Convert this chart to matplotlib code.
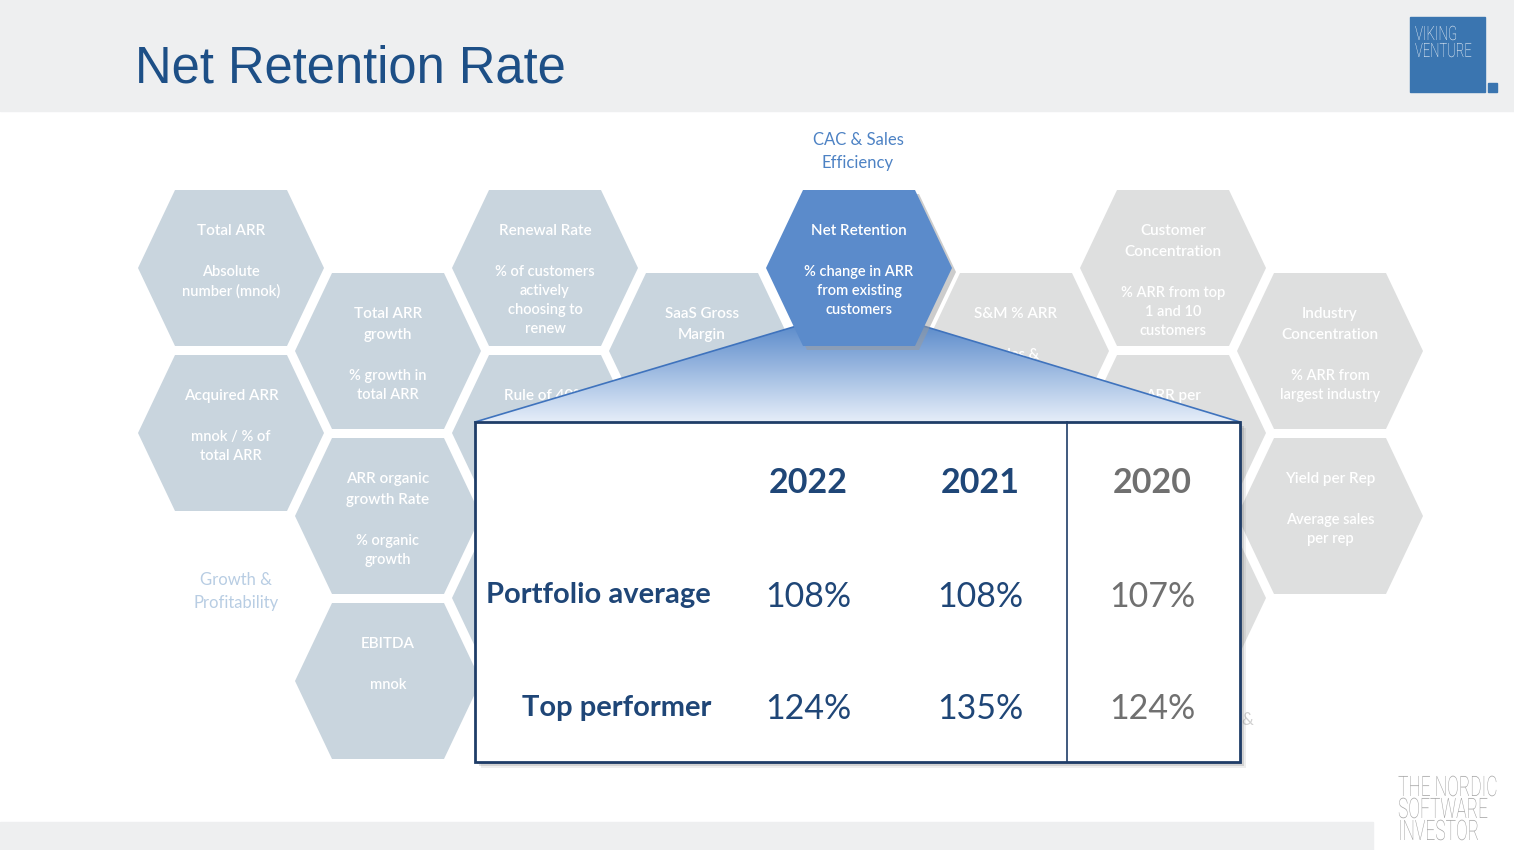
import numpy as np
import matplotlib
matplotlib.use("Agg")
import matplotlib.pyplot as plt
from matplotlib.patches import Polygon, Rectangle, PathPatch
from matplotlib.textpath import TextPath
from matplotlib.font_manager import FontProperties
from matplotlib.transforms import Affine2D
from matplotlib.colors import to_rgb

# table data
years = ["2022", "2021", "2020"]
row_labels = ["Portfolio average", "Top performer"]
portfolio_avg = ["108%", "108%", "107%"]
top_performer = ["124%", "135%", "124%"]

# KPI hexagons: column, row, title, subtitle, group
hex_cols = [0, 0, 1, 1, 1, 2, 2, 2, 3, 4, 5, 6, 6, 6, 7, 7]
hex_rows = [0, 1, 0, 1, 2, 0, 1, 2, 0, 0, 0, 0, 1, 2, 0, 1]
hex_titles = ["Total ARR", "Acquired ARR", "Total ARR\ngrowth", "ARR organic\ngrowth Rate",
              "EBITDA", "Renewal Rate", "Rule of 40%", "", "SaaS Gross\nMargin",
              "Net Retention", "S&M % ARR", "Customer\nConcentration", "ARR per\ncustomer",
              "", "Industry\nConcentration", "Yield per Rep"]
hex_subs = ["Absolute\nnumber (mnok)", "mnok / % of\ntotal ARR", "% growth in\ntotal ARR",
            "% organic\ngrowth", "mnok", "% of customers\nactively\nchoosing to\nrenew", "", "",
            "", "% change in ARR\nfrom existing\ncustomers", "Sales &\nmarketing\ncost",
            "% ARR from top\n1 and 10\ncustomers", "", "", "% ARR from\nlargest industry",
            "Average sales\nper rep"]
hex_groups = ["growth"] * 9 + ["focus"] + ["customer"] * 6

W, H = 1514, 850
fig = plt.figure(figsize=(W / 100, H / 100), dpi=100)
ax = fig.add_axes([0, 0, 1, 1])
ax.set_xlim(0, W)
ax.set_ylim(H, 0)
ax.axis("off")

navy = "#1f4677"
blue = "#5b8bcb"
hex_colors = {"growth": "#c9d5de", "customer": "#dedfdf", "focus": blue}
font = "Lato"

# header and footer bands
ax.add_patch(Rectangle((0, 0), W, 111, color="#eeeff0", zorder=0))
ax.add_patch(Rectangle((0, 822), 1373, 28, color="#eeeff0", zorder=0))
ax.text(135, 82, "Net Retention Rate", fontsize=36.5, color="#1d4f86",
        family="Liberation Sans", va="baseline", ha="left")


def hexagon(cx, cy, w=93, h=78, a=56):
    return [(cx - a, cy - h), (cx + a, cy - h), (cx + w, cy),
            (cx + a, cy + h), (cx - a, cy + h), (cx - w, cy)]


for c, r, t, s, g in zip(hex_cols, hex_rows, hex_titles, hex_subs, hex_groups):
    cx = 231 + 157 * c
    cy = 268 + 165 * r + (83 if c % 2 == 1 else 0)
    z = 1
    if g == "focus":
        z = 5
        shadow = [(x + 4, y + 4) for x, y in hexagon(cx, cy)]
        ax.add_patch(Polygon(shadow, closed=True, color="#9a9a9a", alpha=0.5, lw=0, zorder=4.5))
    ax.add_patch(Polygon(hexagon(cx, cy), closed=True, color=hex_colors[g], lw=0, zorder=z))
    y = cy - 37
    tlines = t.split("\n") if t else []
    for line in tlines:
        ax.text(cx, y, line, ha="center", va="center", color="white", fontsize=11,
                fontweight="semibold", family=font, zorder=z + 0.5)
        y += 21
    y += 20
    if s:
        for line in s.split("\n"):
            ax.text(cx, y, line, ha="center", va="center", color="white", fontsize=10.5,
                    fontweight="semibold", family=font, zorder=z + 0.5)
            y += 19

# group labels
ax.text(858, 140, "CAC & Sales", ha="center", va="center", fontsize=12, color="#4d82c4", family=font)
ax.text(858, 163, "Efficiency", ha="center", va="center", fontsize=12, color="#4d82c4", family=font)
ax.text(236, 580, "Growth &", ha="center", va="center", fontsize=12, color="#b8cde3", family=font)
ax.text(236, 603, "Profitability", ha="center", va="center", fontsize=12, color="#b8cde3", family=font)
ax.text(1253, 720, "&", ha="right", va="center", fontsize=12, color="#d0d0d0", family=font, zorder=0.5)

# callout wedge with gradient
wedge = [(475, 422), (800, 325), (920, 325), (1240, 422)]
clip = Polygon(wedge, closed=True, facecolor="none", edgecolor="none", zorder=3)
ax.add_patch(clip)
top_c = np.array(to_rgb(blue))
bot_c = np.array(to_rgb("#e6eef9"))
tt = np.linspace(0, 1, 200)[:, None, None]
grad = top_c * (1 - tt) + bot_c * tt
im = ax.imshow(grad, extent=(475, 1240, 422, 325), origin="upper", aspect="auto", zorder=3)
im.set_clip_path(clip)
ax.plot([475, 800], [422, 325], color="#3f73bd", lw=1.2, zorder=3.5)
ax.plot([920, 1240], [325, 422], color="#3f73bd", lw=1.2, zorder=3.5)
ax.set_xlim(0, W)
ax.set_ylim(H, 0)

# table box
for k, al in zip([2, 4, 6], [0.35, 0.2, 0.1]):
    ax.add_patch(Rectangle((475 + k, 422 + k), 765, 340, color="#606060", alpha=al, lw=0, zorder=6))
ax.add_patch(Rectangle((475, 422), 765, 340, facecolor="white", edgecolor="#1f3d68", lw=2, zorder=7))
ax.plot([1067, 1067], [422, 762], color="#1f3d68", lw=1.2, zorder=7.5)

col_x = [808, 980, 1152]
year_colors = [navy, navy, "#707070"]
for x, yr, yc in zip(col_x, years, year_colors):
    ax.text(x, 483, yr, ha="center", va="center", fontsize=24.5, fontweight="bold",
            color=yc, family=font, zorder=8)
for x, v, yc in zip(col_x, portfolio_avg, year_colors):
    ax.text(x, 597, v, ha="center", va="center", fontsize=24.5, color=yc, family=font, zorder=8)
for x, v, yc in zip(col_x, top_performer, year_colors):
    ax.text(x, 709, v, ha="center", va="center", fontsize=24.5, color=yc, family=font, zorder=8)
for y, lab in zip([595, 708], row_labels):
    ax.text(711, y, lab, ha="right", va="center", fontsize=21, fontweight="bold",
            color=navy, family=font, zorder=8)

# logo and footer mark (condensed text)
fp = FontProperties(family="Roboto", weight="light")


def squeezed(s, x, y, cap, sx, color, z=9):
    tp = TextPath((0, 0), s, size=cap / 0.71, prop=fp)
    tr = Affine2D().scale(sx, -1).translate(x, y)
    ax.add_patch(PathPatch(tr.transform_path(tp), facecolor=color, lw=0, zorder=z))


ax.add_patch(Rectangle((1410, 17), 75, 75, color="#3a75b0", zorder=8))
ax.add_patch(Rectangle((1488, 83), 9, 9, color="#3a75b0", zorder=8))
squeezed("VIKING", 1415, 40, 14, 0.68, "white")
squeezed("VENTURE", 1415, 57, 14, 0.66, "white")
squeezed("THE NORDIC", 1398, 796, 20, 0.62, "#a0a0a0")
squeezed("SOFTWARE", 1398, 818, 20, 0.62, "#a0a0a0")
squeezed("INVESTOR", 1398, 840, 20, 0.62, "#a0a0a0")

fig.savefig("out.png", dpi=100)
